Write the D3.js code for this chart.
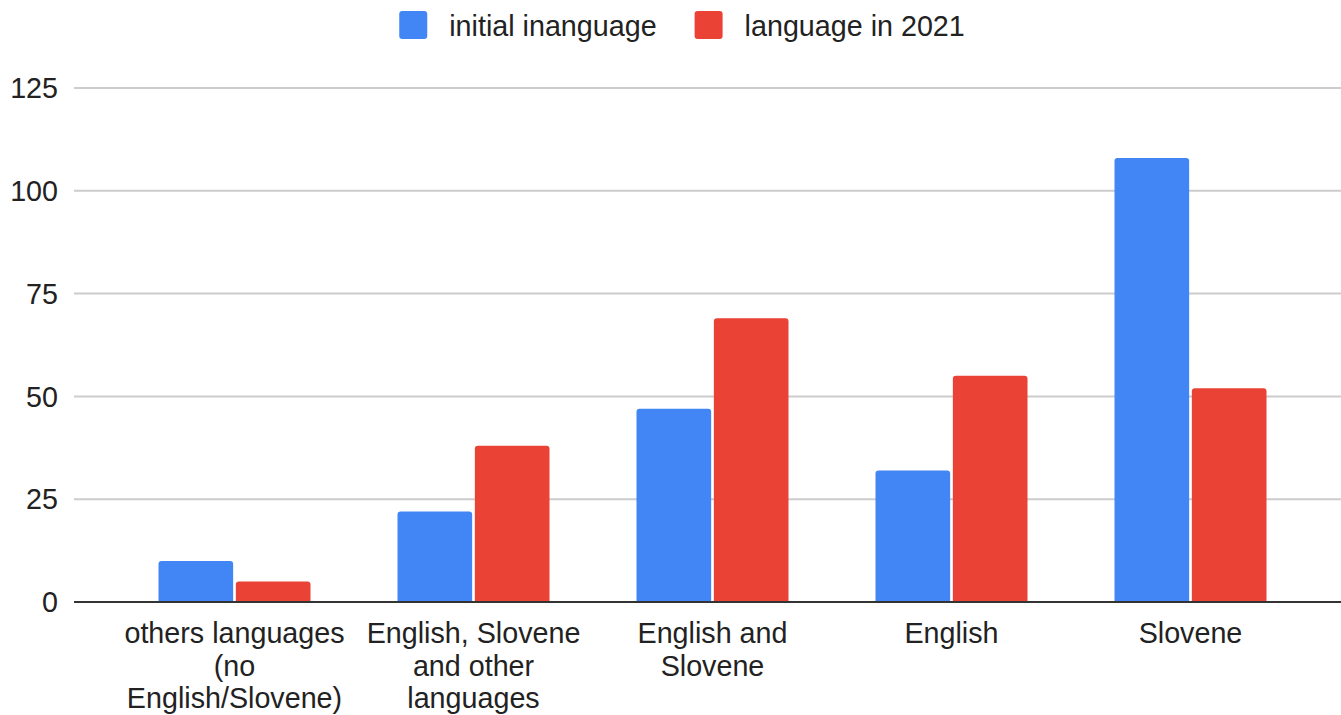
<!DOCTYPE html>
<html>
<head>
<meta charset="utf-8">
<script src="https://cdn.jsdelivr.net/npm/d3@7"></script>
<style>
  html, body { margin: 0; padding: 0; background: #fff; }
  svg { display: block; }
  text { font-family: "Liberation Sans", Arial, sans-serif; fill: #222; }
</style>
</head>
<body>
<svg id="chart" width="1341" height="715"></svg>
<script>
const categories = [
  "others languages (no English/Slovene)",
  "English, Slovene and other languages",
  "English and Slovene",
  "English",
  "Slovene"
];
const categoryLines = [
  ["others languages", "(no", "English/Slovene)"],
  ["English, Slovene", "and other", "languages"],
  ["English and", "Slovene"],
  ["English"],
  ["Slovene"]
];
const seriesNames = ["initial inanguage", "language in 2021"];
const initialLanguage = [10, 22, 47, 32, 108];
const language2021 = [5, 38, 69, 55, 52];
const yTicks = [0, 25, 50, 75, 100, 125];
const colors = ["#4285F4", "#EA4335"];

const FS = 28.7;
const seriesValues = [initialLanguage, language2021];
const data = categories.map((c, i) => ({
  cat: c,
  values: seriesNames.map((s, j) => ({ series: s, idx: j, value: seriesValues[j][i] }))
}));

const svg = d3.select("#chart");
const plotLeft = 74, plotRight = 1341;

const y = d3.scaleLinear().domain([0, 125]).range([602, 88]);
const x0 = d3.scaleBand().domain(categories).range([158.5, 1266.5]).paddingInner(87 / 239).paddingOuter(0);
const x1 = d3.scaleBand().domain(seriesNames).range([0, x0.bandwidth()]).paddingInner(0.035);

// gridlines
svg.append("g")
  .selectAll("line")
  .data(yTicks.filter(t => t !== 0))
  .join("line")
  .attr("x1", plotLeft).attr("x2", plotRight)
  .attr("y1", d => y(d)).attr("y2", d => y(d))
  .attr("stroke", "#cccccc").attr("stroke-width", 2);

// y axis labels
const yAxis = d3.axisLeft(y).tickValues(yTicks).tickSize(0).tickPadding(0);
const yg = svg.append("g").attr("transform", "translate(58,0)").call(yAxis);
yg.select(".domain").remove();
yg.selectAll("text")
  .attr("font-size", FS)
  .attr("font-family", "'Liberation Sans', Arial, sans-serif")
  .attr("fill", "#222")
  .attr("dy", "0.34em")
  .attr("x", 0);

// bars
function topRounded(x, yTop, w, yBase, r) {
  const h = yBase - yTop;
  r = Math.min(r, h, w / 2);
  return `M${x},${yBase}V${yTop + r}Q${x},${yTop} ${x + r},${yTop}H${x + w - r}Q${x + w},${yTop} ${x + w},${yTop + r}V${yBase}Z`;
}
const groups = svg.append("g")
  .selectAll("g")
  .data(data)
  .join("g")
  .attr("transform", d => `translate(${x0(d.cat)},0)`);
groups.selectAll("path")
  .data(d => d.values)
  .join("path")
  .attr("d", d => topRounded(x1(d.series), y(d.value), x1.bandwidth(), y(0), 3))
  .attr("fill", d => colors[d.idx]);

// baseline
svg.append("line")
  .attr("x1", plotLeft).attr("x2", plotRight)
  .attr("y1", y(0)).attr("y2", y(0))
  .attr("stroke", "#333").attr("stroke-width", 2);

// x axis labels
const xl = svg.append("g");
categories.forEach((c, i) => {
  const cx = x0(c) + x0.bandwidth() / 2;
  const t = xl.append("text")
    .attr("text-anchor", "middle")
    .attr("font-size", FS)
    .attr("x", cx)
    .attr("y", 643);
  categoryLines[i].forEach((ln, k) => {
    t.append("tspan").attr("x", cx).attr("dy", k === 0 ? 0 : 32.5).text(ln);
  });
});

// legend
const legend = svg.append("g");
const items = legend.selectAll("g").data(seriesNames).join("g");
items.append("rect")
  .attr("width", 28).attr("height", 28).attr("rx", 3)
  .attr("y", 11)
  .attr("fill", (d, i) => colors[i]);
items.append("text")
  .attr("x", 50).attr("y", 35.5)
  .attr("font-size", FS)
  .text(d => d);
let offs = [];
let cur = 0;
items.each(function(d, i) {
  const w = 50 + d3.select(this).select("text").node().getComputedTextLength();
  offs.push(cur);
  cur += w + 38;
});
const total = cur - 38;
const start = 682 - total / 2;
items.attr("transform", (d, i) => `translate(${start + offs[i]},0)`);
</script>
</body>
</html>
